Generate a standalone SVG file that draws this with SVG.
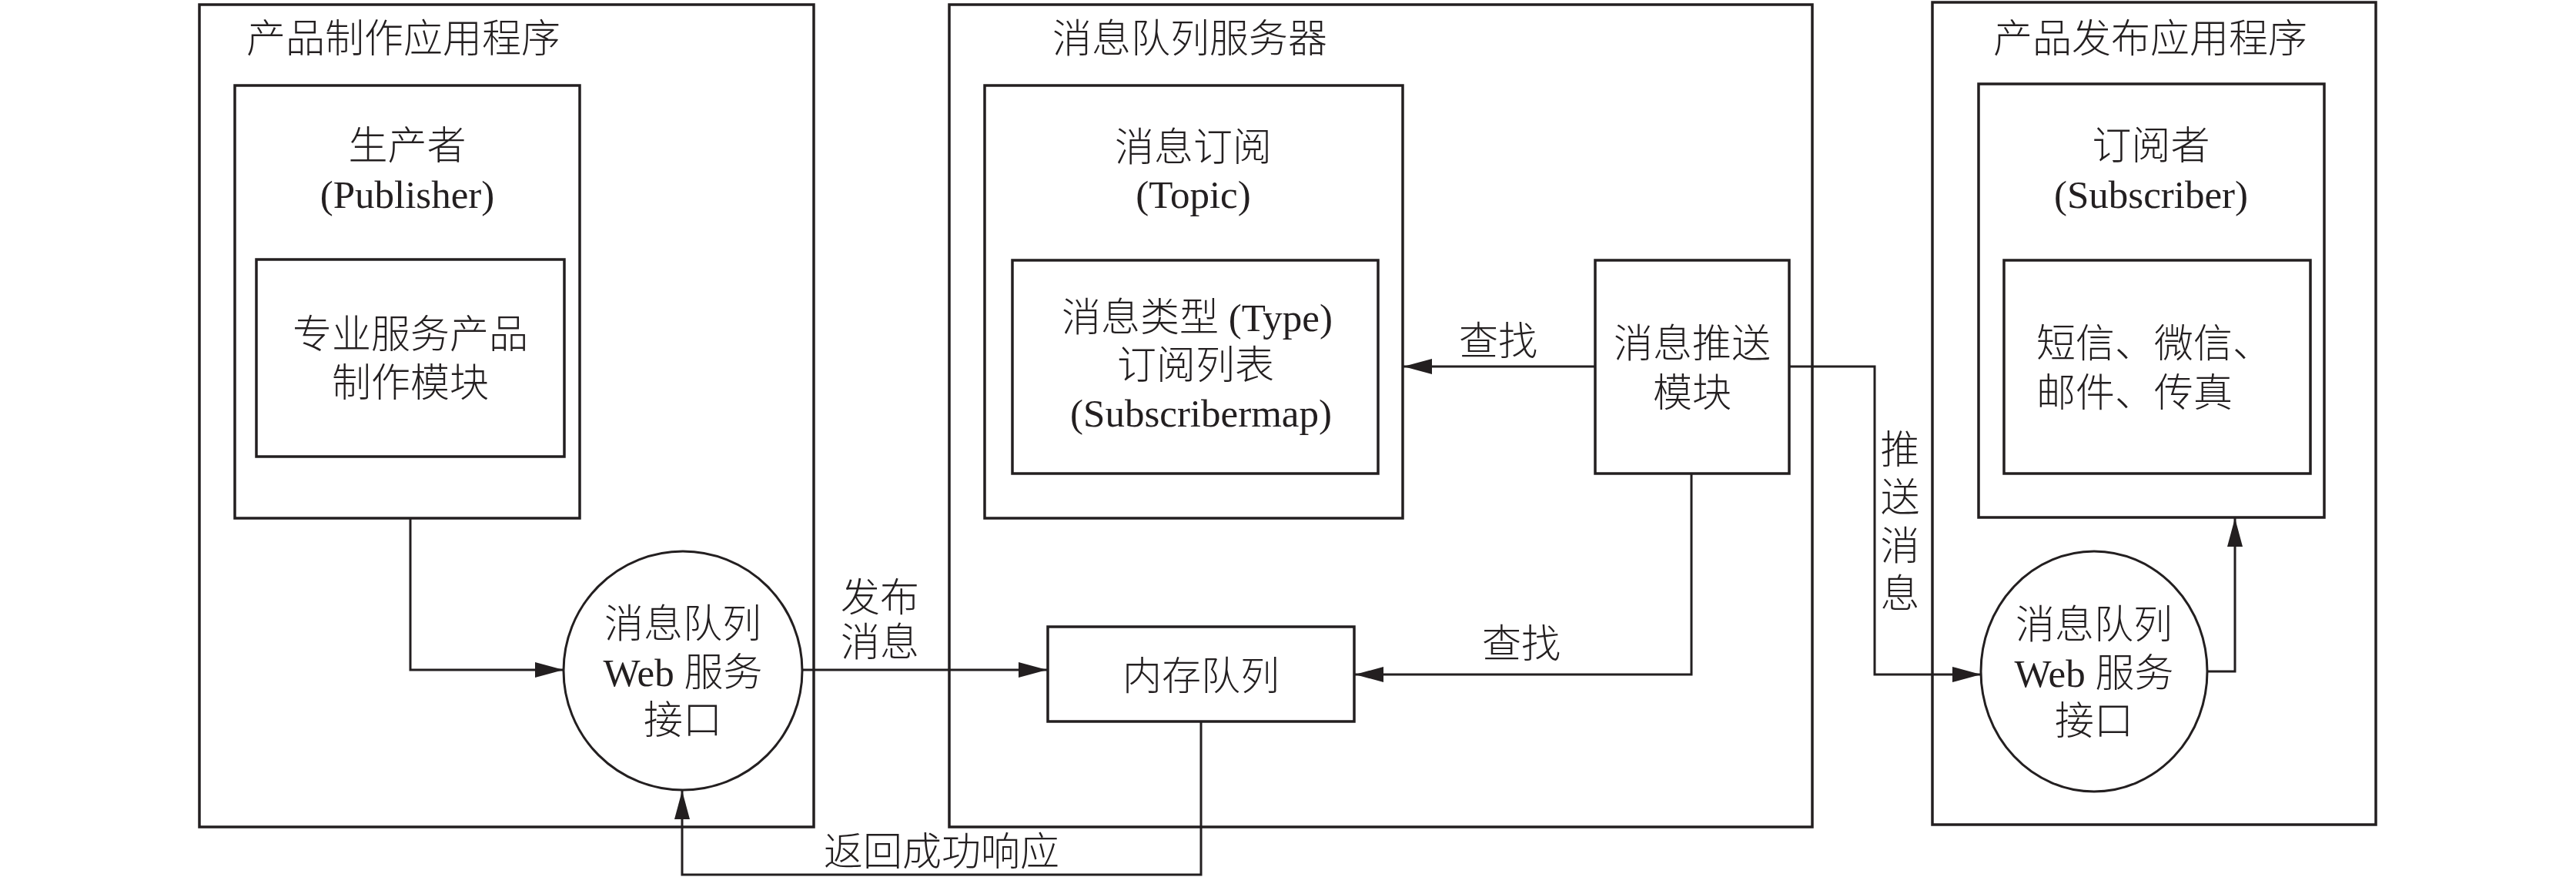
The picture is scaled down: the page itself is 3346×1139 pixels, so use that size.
<svg xmlns="http://www.w3.org/2000/svg" width="3346" height="1139" viewBox="0 0 3346 1139">
<style>
.box{fill:none;stroke:#231f20;stroke-width:3.5}
.circ{fill:#fff;stroke:#231f20;stroke-width:3}
.ln{fill:none;stroke:#231f20;stroke-width:3}
text{font-family:"Liberation Serif","Noto Sans CJK SC",serif;font-size:51px;fill:#231f20;font-weight:300}
.c{text-anchor:middle}
</style>
<defs>
<marker id="arr" markerUnits="userSpaceOnUse" markerWidth="38" markerHeight="22" refX="37" refY="10" orient="auto">
<path d="M0,0 L37,10 L0,20 z" fill="#231f20"/>
</marker>
</defs>
<rect width="3346" height="1139" fill="#fff"/>
<g id="producer-app">
<rect class="box" x="259" y="6" width="798" height="1068"/>
<text x="320" y="68">产品制作应用程序</text>
</g>
<g id="publisher">
<rect class="box" x="305" y="111" width="448" height="562"/>
<text class="c" x="529" y="207">生产者</text>
<text class="c" x="529" y="270">(Publisher)</text>
</g>
<g id="production-module">
<rect class="box" x="333" y="337" width="400" height="256"/>
<text class="c" x="533" y="452">专业服务产品</text>
<text class="c" x="533" y="515">制作模块</text>
</g>
<g id="mq-server">
<rect class="box" x="1233" y="6" width="1121" height="1068"/>
<text x="1367" y="68">消息队列服务器</text>
</g>
<g id="topic">
<rect class="box" x="1279" y="111" width="543" height="562"/>
<text class="c" x="1550" y="209">消息订阅</text>
<text class="c" x="1550" y="270">(Topic)</text>
</g>
<g id="subscribermap">
<rect class="box" x="1315" y="338" width="475" height="277"/>
<text class="c" x="1555" y="430">消息类型 (Type)</text>
<text class="c" x="1553" y="492">订阅列表</text>
<text class="c" x="1560" y="554">(Subscribermap)</text>
</g>
<g id="push-module">
<rect class="box" x="2072" y="338" width="252" height="277"/>
<text class="c" x="2198" y="464">消息推送</text>
<text class="c" x="2198" y="528">模块</text>
</g>
<g id="memory-queue">
<rect class="box" x="1361" y="814" width="398" height="123"/>
<text class="c" x="1560" y="896">内存队列</text>
</g>
<g id="publish-app">
<rect class="box" x="2510" y="3" width="576" height="1068"/>
<text x="2589" y="68">产品发布应用程序</text>
</g>
<g id="subscriber">
<rect class="box" x="2570" y="109" width="449" height="563"/>
<text class="c" x="2794" y="207">订阅者</text>
<text class="c" x="2794" y="270">(Subscriber)</text>
</g>
<g id="channels">
<rect class="box" x="2603" y="338" width="398" height="277"/>
<text x="2645" y="464">短信、微信、</text>
<text x="2645" y="528">邮件、传真</text>
</g>
<g id="connectors">
<path class="ln" d="M533,673 V870 H732" marker-end="url(#arr)"/>
<path class="ln" d="M1042,870 H1360" marker-end="url(#arr)"/>
<path class="ln" d="M2072,476 H1823" marker-end="url(#arr)"/>
<path class="ln" d="M2197,615 V876 H1760" marker-end="url(#arr)"/>
<path class="ln" d="M2324,476 H2435 V876 H2573" marker-end="url(#arr)"/>
<path class="ln" d="M2867,872 H2903 V673" marker-end="url(#arr)"/>
<path class="ln" d="M1560,937 V1136 H886 V1027" marker-end="url(#arr)"/>
<text class="c" x="1143" y="794">发布</text>
<text class="c" x="1143" y="852">消息</text>
<text class="c" x="1946" y="461">查找</text>
<text class="c" x="1976" y="854">查找</text>
<text class="c" x="1223" y="1124">返回成功响应</text>
<text class="c" x="2468" y="602">推</text>
<text class="c" x="2468" y="664">送</text>
<text class="c" x="2468" y="727">消</text>
<text class="c" x="2468" y="789">息</text>
</g>
<g id="mq-web-left">
<circle class="circ" cx="887" cy="871" r="155"/>
<text class="c" x="887" y="828">消息队列</text>
<text class="c" x="887" y="891">Web 服务</text>
<text class="c" x="887" y="953">接口</text>
</g>
<g id="mq-web-right">
<ellipse class="circ" cx="2720" cy="872" rx="147" ry="156"/>
<text class="c" x="2720" y="829">消息队列</text>
<text class="c" x="2720" y="892">Web 服务</text>
<text class="c" x="2720" y="954">接口</text>
</g>
</svg>
